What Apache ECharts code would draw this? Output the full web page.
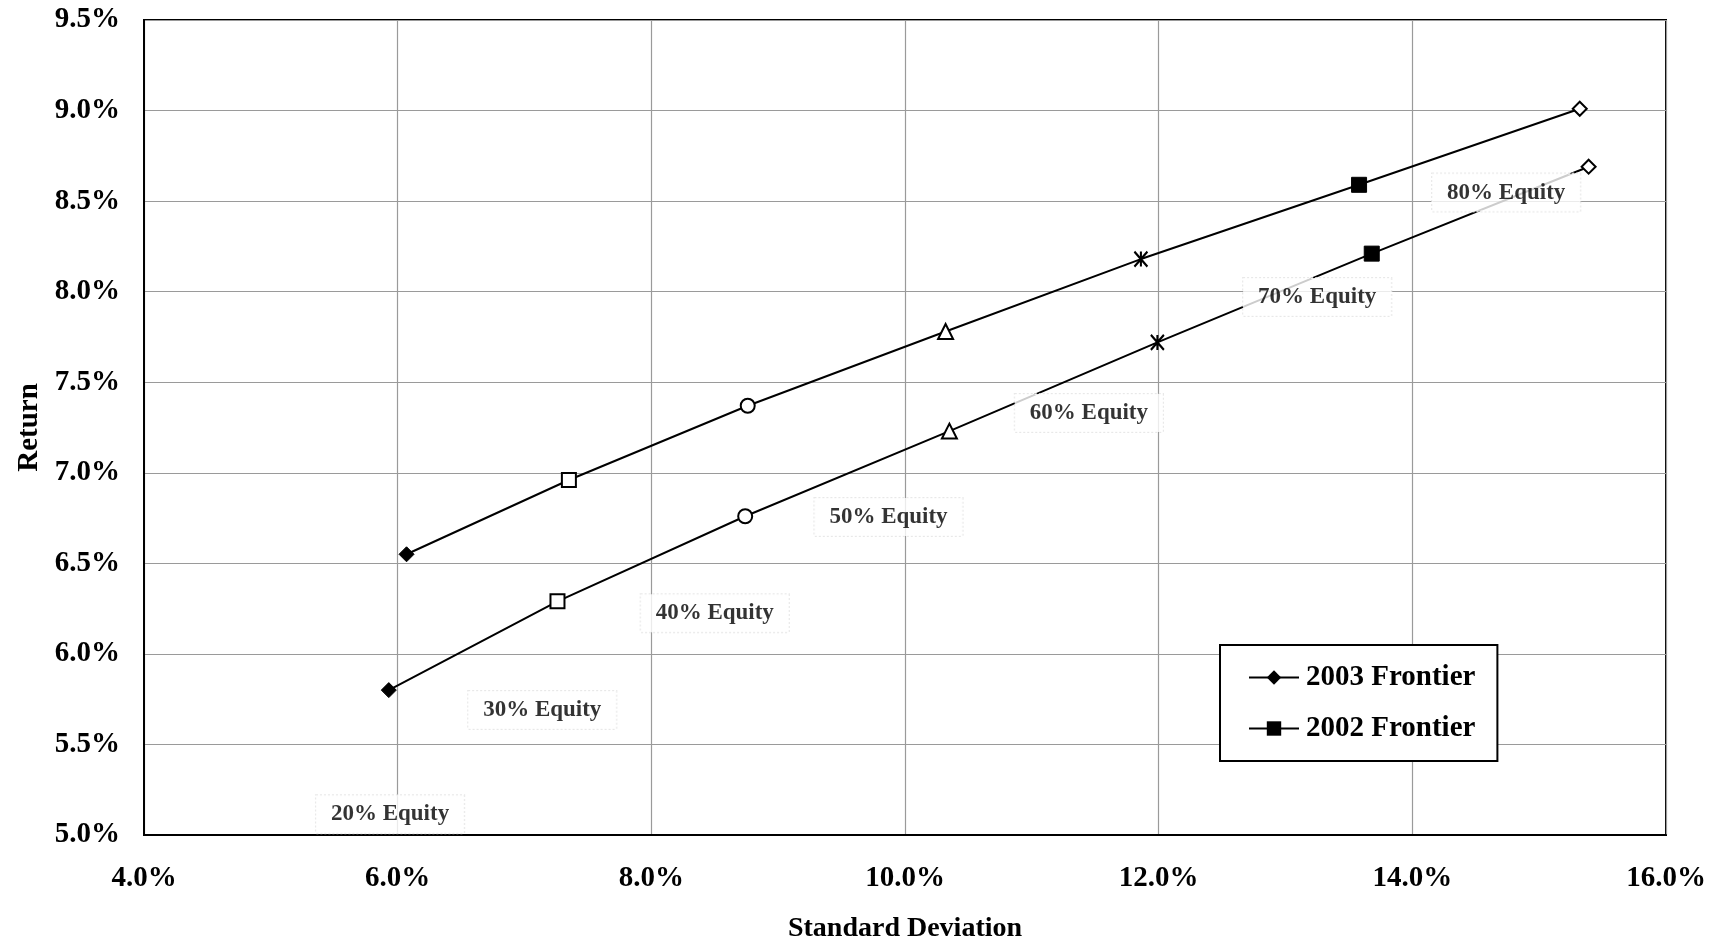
<!DOCTYPE html>
<html>
<head>
<meta charset="utf-8">
<title>Efficient Frontier</title>
<script src="https://cdn.jsdelivr.net/npm/echarts@6/dist/echarts.min.js"></script>
<style>
  html, body { margin: 0; padding: 0; background: #fff; }
  #chart { width: 1712px; height: 941px; }
</style>
</head>
<body>
<div id="chart"></div>
<script>
// Standard deviation (%) and return (%) for each equity mix, 20% .. 80% equity
const frontier2003Risk   = [6.07, 7.35, 8.76, 10.32, 11.86, 13.58, 15.32];
const frontier2003Return = [6.55, 6.96, 7.37, 7.78, 8.18, 8.59, 9.01];
const frontier2002Risk   = [5.93, 7.26, 8.74, 10.35, 11.99, 13.68, 15.39];
const frontier2002Return = [5.80, 6.29, 6.76, 7.23, 7.72, 8.21, 8.69];

// Text boxes naming each equity mix
const mixLabels = ['20% Equity', '30% Equity', '40% Equity', '50% Equity', '60% Equity', '70% Equity', '80% Equity'];
const mixLabelX = [5.94, 7.14, 8.50, 9.87, 11.45, 13.25, 14.74];
const mixLabelY = [5.115, 5.69, 6.225, 6.756, 7.33, 7.97, 8.547];

const xTicks = { min: 4, max: 16, step: 2 };
const yTicks = { min: 5, max: 9.5, step: 0.5 };

const FONT = "'Liberation Serif', 'Times New Roman', serif";
const INK = '#000';

// Asterisk marker: three crossing strokes
const asterisk = 'path://M0,0L10,12M10,0L0,12M5,0L5,12';

// Marker style per point along each frontier
const markerStyles = [
  { symbol: 'diamond', symbolSize: 15, itemStyle: { color: '#000', borderColor: '#000', borderWidth: 1 } },
  { symbol: 'rect', symbolSize: 14, itemStyle: { color: '#fff', borderColor: '#000', borderWidth: 2 } },
  { symbol: 'circle', symbolSize: 14, itemStyle: { color: '#fff', borderColor: '#000', borderWidth: 2 } },
  { symbol: 'triangle', symbolSize: 15, itemStyle: { color: '#fff', borderColor: '#000', borderWidth: 2 } },
  { symbol: asterisk, symbolSize: [13, 15], itemStyle: { color: 'none', borderColor: '#000', borderWidth: 2.2 } },
  { symbol: 'rect', symbolSize: 15, itemStyle: { color: '#000', borderColor: '#000', borderWidth: 1 } },
  { symbol: 'diamond', symbolSize: 14, itemStyle: { color: '#fff', borderColor: '#000', borderWidth: 2 } }
];

function frontierData(xs, ys) {
  return xs.map((x, i) => Object.assign({ value: [x, ys[i]] }, markerStyles[i]));
}

const pct = v => v.toFixed(1) + '%';

const chart = echarts.init(document.getElementById('chart'), null, { renderer: 'canvas' });

chart.setOption({
  animation: false,
  backgroundColor: '#fff',
  textStyle: { fontFamily: FONT, color: INK },
  grid: {
    left: 144, right: 46, top: 20, bottom: 106,
    containLabel: false,
    outerBoundsMode: 'none',
    show: true, borderColor: '#000', borderWidth: 2, backgroundColor: 'transparent'
  },
  legend: {
    data: ['2003 Frontier', '2002 Frontier'],
    orient: 'vertical',
    left: 1220, top: 645,
    padding: [18, 22, 18, 28],
    itemGap: 22,
    itemWidth: 50, itemHeight: 18,
    backgroundColor: '#fff',
    borderColor: '#000', borderWidth: 2, borderRadius: 0,
    textStyle: { fontFamily: FONT, fontWeight: 'bold', fontSize: 29, color: INK, padding: [0, 0, 0, 2] }
  },
  xAxis: {
    type: 'value',
    min: xTicks.min, max: xTicks.max, interval: xTicks.step,
    name: 'Standard Deviation',
    nameLocation: 'middle',
    nameGap: 80,
    nameTextStyle: { fontFamily: FONT, fontWeight: 'bold', fontSize: 28, color: INK },
    axisLine: { show: true, lineStyle: { color: '#000', width: 2 } },
    axisTick: { show: false },
    axisLabel: { formatter: pct, margin: 29, fontFamily: FONT, fontWeight: 'bold', fontSize: 29, color: INK },
    splitLine: { show: true, lineStyle: { color: '#9a9a9a', width: 1.2 } }
  },
  yAxis: {
    type: 'value',
    min: yTicks.min, max: yTicks.max, interval: yTicks.step,
    name: 'Return',
    nameLocation: 'middle',
    nameRotate: 90,
    nameGap: 99,
    nameTextStyle: { fontFamily: FONT, fontWeight: 'bold', fontSize: 29, color: INK },
    axisLine: { show: true, lineStyle: { color: '#000', width: 2 } },
    axisTick: { show: false },
    axisLabel: { formatter: pct, margin: 24, fontFamily: FONT, fontWeight: 'bold', fontSize: 29, color: INK },
    splitLine: { show: true, lineStyle: { color: '#9a9a9a', width: 1.2 } }
  },
  series: [
    {
      name: '2003 Frontier',
      type: 'line',
      z: 3,
      symbol: 'diamond',
      symbolSize: 13,
      data: frontierData(frontier2003Risk, frontier2003Return),
      lineStyle: { color: '#000', width: 2 },
      itemStyle: { color: '#000' }
    },
    {
      name: '2002 Frontier',
      type: 'line',
      z: 3,
      symbol: 'rect',
      symbolSize: 12,
      data: frontierData(frontier2002Risk, frontier2002Return),
      lineStyle: { color: '#000', width: 2 },
      itemStyle: { color: '#000' }
    },
    {
      name: 'Equity mix',
      type: 'scatter',
      z: 6,
      symbolSize: 0,
      silent: true,
      itemStyle: { color: '#000' },
      data: mixLabels.map((n, i) => ({ name: n, value: [mixLabelX[i], mixLabelY[i]] })),
      label: {
        show: true,
        position: 'inside',
        formatter: p => p.name,
        fontFamily: FONT,
        fontWeight: 'bold',
        fontSize: 23,
        color: '#000',
        textBorderWidth: 0,
        backgroundColor: '#fff',
        borderColor: '#e2e2e2',
        borderWidth: 1,
        borderType: 'dotted',
        padding: [8, 15, 7, 15]
      }
    }
  ]
});
</script>
</body>
</html>
